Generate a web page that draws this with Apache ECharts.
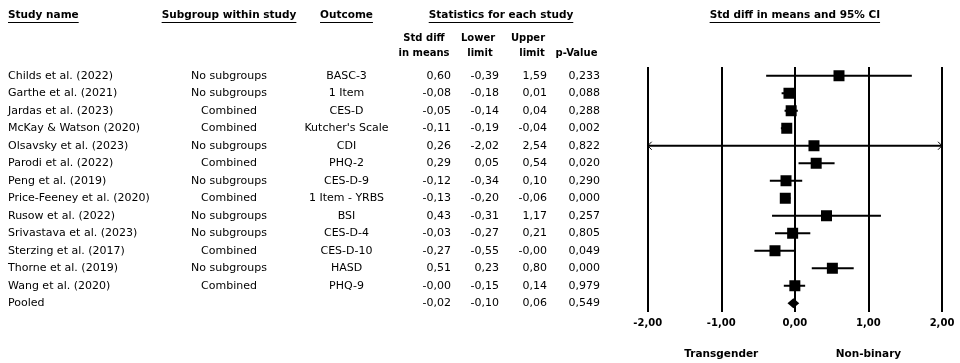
<!DOCTYPE html>
<html>
<head>
<meta charset="utf-8">
<script src="https://cdn.jsdelivr.net/npm/echarts@6/dist/echarts.min.js"></script>
<style>
html,body{margin:0;padding:0;background:#fff;}
#c{width:960px;height:363px;}
</style>
</head>
<body>
<div id="c"></div>
<script>
// ---- data ----
const studies = ['Childs et al. (2022)','Garthe et al. (2021)','Jardas et al. (2023)','McKay & Watson (2020)','Olsavsky et al. (2023)','Parodi et al. (2022)','Peng et al. (2019)','Price-Feeney et al. (2020)','Rusow et al. (2022)','Srivastava et al. (2023)','Sterzing et al. (2017)','Thorne et al. (2019)','Wang et al. (2020)','Pooled'];
const subgroups = ['No subgroups','No subgroups','Combined','Combined','No subgroups','Combined','No subgroups','Combined','No subgroups','No subgroups','Combined','No subgroups','Combined',''];
const outcomes = ['BASC-3','1 Item','CES-D',"Kutcher's Scale",'CDI','PHQ-2','CES-D-9','1 Item - YRBS','BSI','CES-D-4','CES-D-10','HASD','PHQ-9',''];
const smd   = [0.60,-0.08,-0.05,-0.11,0.26,0.29,-0.12,-0.13,0.43,-0.03,-0.27,0.51,-0.00,-0.02];
const lower = [-0.39,-0.18,-0.14,-0.19,-2.02,0.05,-0.34,-0.20,-0.31,-0.27,-0.55,0.23,-0.15,-0.10];
const upper = [1.59,0.01,0.04,-0.04,2.54,0.54,0.10,-0.06,1.17,0.21,-0.00,0.80,0.14,0.06];
const pvals = ['0,233','0,088','0,288','0,002','0,822','0,020','0,290','0,000','0,257','0,805','0,049','0,000','0,979','0,549'];
const xTicks = [-2,-1,0,1,2];
const sideLabels = [{text:'Transgender', at:-1},{text:'Non-binary', at:1}];

// ---- helpers ----
function fmt(v){
  const neg = v < 0 || Object.is(v,-0);
  return (neg ? '-' : '') + Math.abs(v).toFixed(2).replace('.', ',');
}
const FONT = '"DejaVu Sans", sans-serif';
const chart = echarts.init(document.getElementById('c'));
const gridLeft = 647.7, gridTop = 67, gridW = 294.3, gridH = 245;

function colAxis(data, x, align){
  return {
    type:'category', data:data, inverse:true, gridIndex:0, position:'left',
    offset: gridLeft - x,
    axisLine:{show:false}, axisTick:{show:false}, splitLine:{show:false},
    axisLabel:{show:true, interval:0, margin:0, align:align, color:'#000', fontFamily:FONT, fontSize:11, hideOverlap:false}
  };
}

const ciData = studies.map((s,i)=>[lower[i], upper[i], i, smd[i]]);

const option = {
  backgroundColor:'#fff',
  animation:false,
  grid:{left:gridLeft, top:gridTop, width:gridW, height:gridH},
  xAxis:{
    type:'value', min:xTicks[0], max:xTicks[xTicks.length-1], interval:1,
    axisLine:{show:false}, axisTick:{show:false},
    splitLine:{show:true, lineStyle:{color:'#000', width:2}},
    axisLabel:{formatter:fmt, color:'#000', fontFamily:FONT, fontSize:10, fontWeight:'bold', margin:6}
  },
  yAxis:[
    colAxis(studies, 8, 'left'),
    colAxis(subgroups, 229, 'center'),
    colAxis(outcomes, 346.5, 'center'),
    colAxis(smd.map(fmt), 451, 'right'),
    colAxis(lower.map(fmt), 499, 'right'),
    colAxis(upper.map(fmt), 547, 'right'),
    colAxis(pvals, 600, 'right')
  ],
  series:[{
    type:'custom', xAxisIndex:0, yAxisIndex:0, clip:false,
    data:ciData,
    encode:{x:[0,1], y:2},
    renderItem:function(params, api){
      const lo = api.value(0), hi = api.value(1), idx = api.value(2), m = api.value(3);
      const minX = xTicks[0], maxX = xTicks[xTicks.length-1];
      const p1 = api.coord([Math.max(lo,minX), idx]);
      const p2 = api.coord([Math.min(hi,maxX), idx]);
      const c = api.coord([m, idx]);
      const children = [];
      const isPooled = idx === studies.length - 1;
      if (!isPooled) {
        children.push({type:'line', shape:{x1:p1[0], y1:p1[1], x2:p2[0], y2:p2[1]}, style:{stroke:'#000', lineWidth:2}});
        if (lo < minX) children.push({type:'polyline', shape:{points:[[p1[0]+4,p1[1]-4],[p1[0],p1[1]],[p1[0]+4,p1[1]+4]]}, style:{stroke:'#000', lineWidth:1, fill:null}});
        if (hi > maxX) children.push({type:'polyline', shape:{points:[[p2[0]-4,p2[1]-4],[p2[0],p2[1]],[p2[0]-4,p2[1]+4]]}, style:{stroke:'#000', lineWidth:1, fill:null}});
        const s = 11;
        children.push({type:'rect', shape:{x:c[0]-s/2, y:c[1]-s/2, width:s, height:s}, style:{fill:'#000'}});
      } else {
        const h = 5;
        children.push({type:'polygon', shape:{points:[[p1[0],c[1]],[c[0],c[1]-h],[p2[0],c[1]],[c[0],c[1]+h]]}, style:{fill:'#000'}});
      }
      return {type:'group', children:children};
    }
  }]
};
chart.setOption(option);

// ---- header / footer texts ----
const ctx = document.createElement('canvas').getContext('2d');
function tw(text, font){ ctx.font = font; return ctx.measureText(text).width; }
const HF = 'bold 10.5px ' + FONT;
const SF = 'bold 10px ' + FONT;
const graphics = [];
function addText(text, x, y, font, align, underline){
  graphics.push({type:'text', silent:true, style:{text:text, x:x, y:y, font:font, fill:'#000', textAlign:align, textVerticalAlign:'middle', align:align, verticalAlign:'middle'}});
  if (underline){
    const w = tw(text, font);
    let x0 = align === 'left' ? x : (align === 'center' ? x - w/2 : x - w);
    graphics.push({type:'line', silent:true, shape:{x1:x0, y1:22.5, x2:x0+w, y2:22.5}, style:{stroke:'#000', lineWidth:1}});
  }
}
addText('Study name', 8, 15.5, HF, 'left', true);
addText('Subgroup within study', 229, 15.5, HF, 'center', true);
addText('Outcome', 346.5, 15.5, HF, 'center', true);
addText('Statistics for each study', 501, 15.5, HF, 'center', true);
addText('Std diff in means and 95% CI', chart.convertToPixel({xAxisIndex:0}, 0), 15.5, HF, 'center', true);
addText('Std diff', 424, 38, SF, 'center');
addText('in means', 424, 53, SF, 'center');
addText('Lower', 478, 38, SF, 'center');
addText('limit', 480, 53, SF, 'center');
addText('Upper', 528, 38, SF, 'center');
addText('limit', 532, 53, SF, 'center');
addText('p-Value', 576.5, 53, SF, 'center');
sideLabels.forEach(l => addText(l.text, chart.convertToPixel({xAxisIndex:0}, l.at), 354, 'bold 10.5px ' + FONT, 'center'));
chart.setOption({graphic: graphics});
</script>
</body>
</html>
